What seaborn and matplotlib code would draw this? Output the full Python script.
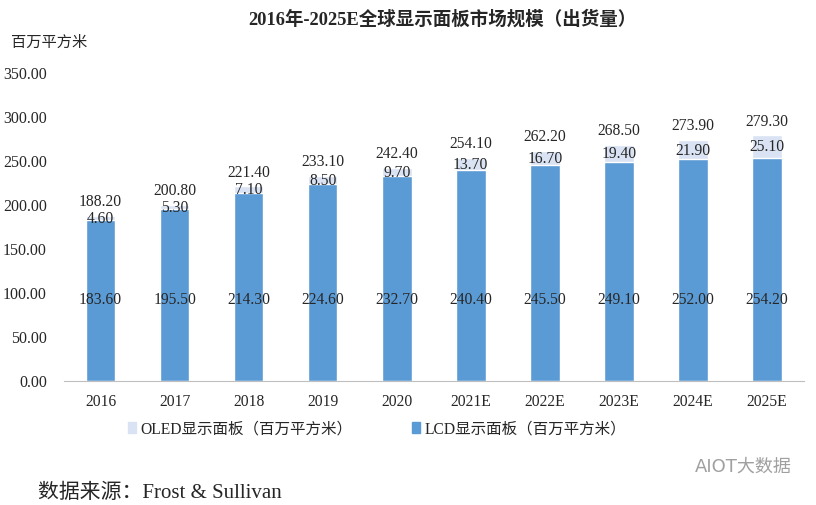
import pandas as pd
import seaborn as sns
import matplotlib.pyplot as plt
from matplotlib.patches import Patch

# data
years = ['2016', '2017', '2018', '2019', '2020', '2021E', '2022E', '2023E', '2024E', '2025E']
lcd = [183.60, 195.50, 214.30, 224.60, 232.70, 240.40, 245.50, 249.10, 252.00, 254.20]
oled = [4.60, 5.30, 7.10, 8.50, 9.70, 13.70, 16.70, 19.40, 21.90, 25.10]
total = [188.20, 200.80, 221.40, 233.10, 242.40, 254.10, 262.20, 268.50, 273.90, 279.30]

df = pd.DataFrame({'year': years, 'lcd': lcd, 'oled': oled, 'total': total})

sns.set_style('white')
plt.rcParams['font.family'] = ['Liberation Serif', 'Noto Sans CJK SC']
plt.rcParams['axes.unicode_minus'] = False

lcd_color = '#5B9BD5'
oled_color = '#DAE3F3'
fs = 11.25

fig = plt.figure(figsize=(8.16, 5.05), dpi=100)
ax = fig.add_axes([0.078, 0.245, 0.907, 0.61])

# stacked look: total bar (OLED colour) behind, LCD bar in front
sns.barplot(data=df, x='year', y='total', color=oled_color, width=0.4, saturation=1, ax=ax)
sns.barplot(data=df, x='year', y='lcd', color=lcd_color, width=0.4, saturation=1, ax=ax)

for i, row in df.iterrows():
    ax.text(i, row['total'] + 6.5, f"{row['total']:.2f}", ha='center', va='bottom', fontsize=fs)
    ax.text(i, row['lcd'] + row['oled'] / 2 - 1, f"{row['oled']:.2f}", ha='center', va='center', fontsize=fs)
    ax.text(i, 92, f"{row['lcd']:.2f}", ha='center', va='center', fontsize=fs)

ax.set_ylim(0, 350)
ax.set_yticks(range(0, 351, 50))
ax.set_yticklabels([f'{v:.2f}' for v in range(0, 351, 50)], fontsize=11.5)
ax.tick_params(axis='x', labelsize=fs, length=0, pad=9)
ax.tick_params(axis='y', length=0, pad=12)
ax.set_xlabel('')
ax.set_ylabel('')
for s in ['top', 'right', 'left']:
    ax.spines[s].set_visible(False)
ax.spines['bottom'].set_color('#BFBFBF')

fig.text(0.542, 0.962, '2016年-2025E全球显示面板市场规模（出货量）', ha='center', va='center',
         fontsize=13.3, fontweight='bold')
fig.text(0.013, 0.915, '百万平方米', ha='left', va='center', fontsize=11)

handles = [Patch(color=oled_color), Patch(color=lcd_color)]
labels = ['OLED显示面板（百万平方米）', 'LCD显示面板（百万平方米）']
fig.legend(handles, labels, loc='center', bbox_to_anchor=(0.462, 0.15), ncol=2, frameon=False,
           fontsize=11.2, handlelength=0.5, handleheight=0.7, handletextpad=0.3, columnspacing=3.8)

fig.text(0.047, 0.024, '数据来源：Frost & Sullivan', ha='left', va='center', fontsize=15)
fig.text(0.97, 0.076, 'AIOT大数据', ha='right', va='center', fontsize=13, color='#A0A0A0',
         family=['DejaVu Sans', 'Noto Sans CJK SC'])

fig.savefig('out.png', dpi=100)
